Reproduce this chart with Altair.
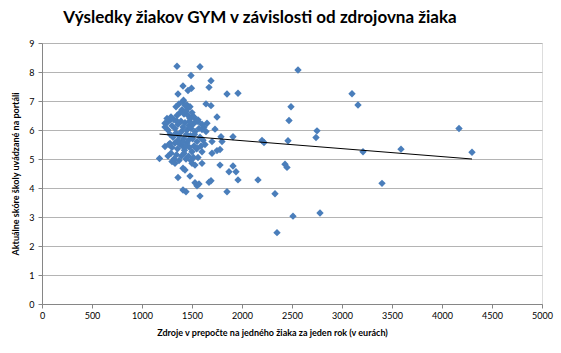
import altair as alt
import pandas as pd

# Resources per student (EUR / year)
x_vals = [
    # upper points
    1350, 1580, 1490, 1690, 1670, 1410, 1495, 1460, 1360, 1850, 1960, 1415, 1640, 1690, 1750, 2560,
    # right side
    3100, 3160, 2490, 2470, 2750, 2740, 4170, 2460, 3210, 3590, 4300, 2430, 2450, 3400, 2330, 2510,
    2780, 2350, 2200, 2220, 2160, 1960,
    # around the cluster
    1790, 1910, 1700, 1800, 1700, 1750, 1780, 1730, 1650, 1600, 1560, 1510, 1780, 1910, 1870, 1940,
    1670, 1690, 1530, 1550, 1570, 1440, 1410, 1580, 1850, 1360, 1480, 1500, 1530, 1600, 1410, 1430,
    1300, 1330, 1175, 1230, 1280, 1230, 1250, 1280, 1600, 1550, 1410, 1450, 1480,
    # dense core
    1250, 1290, 1320, 1350, 1380, 1400, 1420, 1440, 1460, 1480, 1500, 1520, 1540, 1560, 1600, 1620,
    1230, 1260, 1300, 1330, 1360, 1390, 1410, 1430, 1450, 1470, 1490, 1510, 1530, 1570, 1640,
    1280, 1310, 1340, 1370, 1395, 1415, 1445, 1465, 1485, 1505, 1525, 1550, 1580, 1610,
    1270, 1300, 1330, 1355, 1380, 1405, 1425, 1450, 1475, 1500, 1520, 1545, 1590, 1630,
    1260, 1290, 1320, 1345, 1370, 1395, 1420, 1440, 1465, 1490, 1515, 1560,
    1340, 1370, 1430, 1460, 1350, 1475, 1405, 1360, 1440,
]

# Current school score reported on the portal
y_vals = [
    8.20, 8.18, 7.88, 7.70, 7.47, 7.52, 7.44, 7.36, 7.24, 7.24, 7.27, 7.03, 6.90, 6.84, 6.45, 8.07,
    7.25, 6.86, 6.80, 6.33, 5.97, 5.74, 6.05, 5.63, 5.25, 5.34, 5.23, 4.82, 4.71, 4.16, 3.80, 3.03,
    3.14, 2.46, 5.64, 5.57, 4.28, 4.28,
    5.77, 5.77, 5.60, 5.60, 5.20, 5.29, 5.33, 6.03, 6.23, 6.02, 6.29, 6.46, 4.79, 4.76, 4.56, 4.56,
    4.20, 4.25, 4.18, 4.08, 4.14, 3.87, 3.93, 3.72, 3.87, 4.36, 4.41, 4.85, 4.79, 4.85, 4.68, 4.62,
    4.91, 4.85, 5.02, 5.43, 5.54, 6.23, 6.25, 6.34, 5.25, 5.37, 6.98, 6.86, 6.80,
    6.40, 6.45, 6.35, 6.50, 6.60, 6.70, 6.55, 6.65, 6.50, 6.40, 6.60, 6.45, 6.30, 6.35, 6.20, 6.10,
    6.10, 6.00, 6.15, 6.05, 6.20, 6.30, 6.10, 6.25, 6.00, 6.15, 6.05, 6.20, 5.95, 6.05, 5.95,
    5.85, 5.75, 5.90, 5.80, 5.95, 5.70, 5.85, 5.65, 5.80, 5.70, 5.85, 5.60, 5.75, 5.65,
    5.50, 5.40, 5.55, 5.35, 5.50, 5.45, 5.30, 5.55, 5.40, 5.25, 5.45, 5.35, 5.45, 5.50,
    5.10, 5.20, 5.00, 5.15, 4.95, 5.10, 5.20, 5.00, 5.10, 4.95, 5.05, 5.05,
    6.80, 6.90, 6.85, 6.75, 6.30, 6.30, 5.60, 5.65, 5.45,
]

x_ticks = [0, 500, 1000, 1500, 2000, 2500, 3000, 3500, 4000, 4500, 5000]
y_ticks = [0, 1, 2, 3, 4, 5, 6, 7, 8, 9]

df = pd.DataFrame({"x": x_vals, "y": y_vals})

FONT = "Lato"
xscale = alt.Scale(domain=[0, 5000], nice=False, zero=True)
yscale = alt.Scale(domain=[0, 9], nice=False, zero=True)

x_enc = alt.X(
    "x:Q",
    scale=xscale,
    axis=alt.Axis(
        values=x_ticks,
        format="d",
        labelOverlap=False,
        labelFlush=False,
        title="Zdroje v prepočte na jedného žiaka za jeden rok (v eurách)",
        grid=False,
        domainColor="#868686",
        tickColor="#868686",
        tickSize=4,
        labelFont=FONT,
        labelFontSize=9,
        labelColor="#000000",
        labelPadding=3,
        titleFont=FONT,
        titleFontSize=9,
        titleFontWeight="bold",
        titleColor="#000000",
        titlePadding=8,
        titleX=230,
    ),
)
y_enc = alt.Y(
    "y:Q",
    scale=yscale,
    axis=alt.Axis(
        values=y_ticks,
        format="d",
        tickCount=10,
        labelOverlap=False,
        labelFlush=False,
        title="Aktuálne skóre školy uvádzané  na portáli",
        grid=True,
        gridColor="#b4b4b4",
        gridWidth=1.2,
        domainColor="#868686",
        tickColor="#868686",
        tickSize=4,
        labelFont=FONT,
        labelFontSize=9,
        labelColor="#000000",
        labelPadding=4,
        titleFont=FONT,
        titleFontSize=9,
        titleFontWeight="bold",
        titleColor="#000000",
        titlePadding=8,
    ),
)

points = alt.Chart(df).mark_point(
    shape="diamond", filled=True, size=55, color="#4a7ebb", opacity=1
).encode(x=x_enc, y=y_enc)

trend = (
    alt.Chart(df)
    .transform_regression("x", "y", method="linear")
    .mark_line(color="#000000", strokeWidth=1)
    .encode(x=x_enc, y=y_enc)
)

chart = (
    alt.layer(points, trend)
    .properties(
        width=500,
        height=261,
        padding={"left": 42, "top": 43, "right": 19, "bottom": 49},
        autosize=alt.AutoSizeParams(type="none"),
        title=alt.TitleParams(
            "Výsledky žiakov GYM v závislosti od zdrojovna žiaka",
            font=FONT,
            fontSize=17,
            fontWeight="bold",
            color="#000000",
            anchor="middle",
            dx=-32,
            offset=12,
        ),
    )
    .configure_view(stroke=None)
    .configure(background="#ffffff")
)

chart.save("out.html", embed_options={"renderer": "svg", "actions": False})
